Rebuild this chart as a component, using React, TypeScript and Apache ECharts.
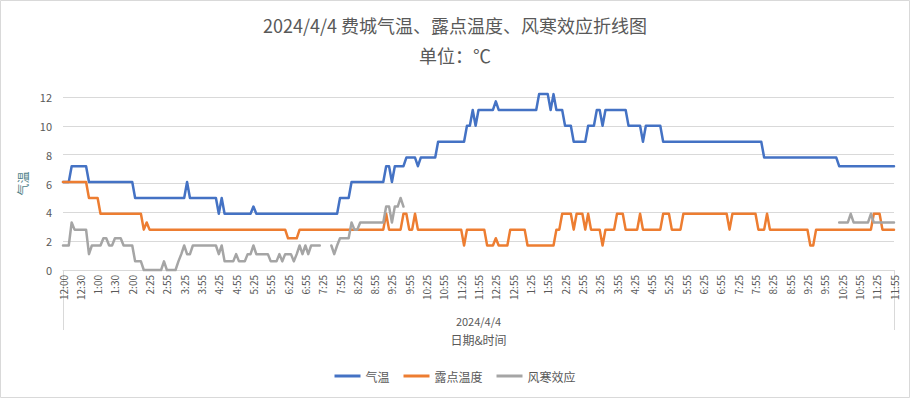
import React, { useEffect, useRef } from "react";
import * as echarts from "echarts";

const N = null;

// Category labels: observations every 5 minutes, 12:00 AM to 11:55 PM, plus one extra observation after 2:00
function buildTimeLabels(): string[] {
  const out: string[] = [];
  for (let m = 0; m < 24 * 60; m += 5) {
    const h = Math.floor(m / 60);
    const mm = m % 60;
    const h12 = h % 12 === 0 ? 12 : h % 12;
    out.push(`${h12}:${mm < 10 ? "0" + mm : mm}`);
    if (m === 120) out.push("2:02");
  }
  return out;
}
const timeLabels = buildTimeLabels();

const DATE_LABEL = "2024/4/4";
const SERIES_NAMES = ["气温", "露点温度", "风寒效应"];

const temperature = [
  6.1, 6.1, 6.1, 7.2, 7.2, 7.2, 7.2, 7.2, 7.2, 6.1, 6.1, 6.1,
  6.1, 6.1, 6.1, 6.1, 6.1, 6.1, 6.1, 6.1, 6.1, 6.1, 6.1, 6.1,
  6.1, 5.0, 5.0, 5.0, 5.0, 5.0, 5.0, 5.0, 5.0, 5.0, 5.0, 5.0,
  5.0, 5.0, 5.0, 5.0, 5.0, 5.0, 5.0, 6.1, 5.0, 5.0, 5.0, 5.0,
  5.0, 5.0, 5.0, 5.0, 5.0, 5.0, 3.9, 5.0, 3.9, 3.9, 3.9, 3.9,
  3.9, 3.9, 3.9, 3.9, 3.9, 3.9, 4.4, 3.9, 3.9, 3.9, 3.9, 3.9,
  3.9, 3.9, 3.9, 3.9, 3.9, 3.9, 3.9, 3.9, 3.9, 3.9, 3.9, 3.9,
  3.9, 3.9, 3.9, 3.9, 3.9, 3.9, 3.9, 3.9, 3.9, 3.9, 3.9, 3.9,
  5.0, 5.0, 5.0, 5.0, 6.1, 6.1, 6.1, 6.1, 6.1, 6.1, 6.1, 6.1,
  6.1, 6.1, 6.1, 6.1, 7.2, 7.2, 6.1, 7.2, 7.2, 7.2, 7.2, 7.8,
  7.8, 7.8, 7.8, 7.2, 7.8, 7.8, 7.8, 7.8, 7.8, 7.8, 8.9, 8.9,
  8.9, 8.9, 8.9, 8.9, 8.9, 8.9, 8.9, 8.9, 10.0, 10.0, 11.1, 10.0,
  11.1, 11.1, 11.1, 11.1, 11.1, 11.1, 11.7, 11.1, 11.1, 11.1, 11.1, 11.1,
  11.1, 11.1, 11.1, 11.1, 11.1, 11.1, 11.1, 11.1, 11.1, 12.2, 12.2, 12.2,
  12.2, 11.1, 12.2, 11.1, 11.1, 11.1, 10.0, 10.0, 10.0, 8.9, 8.9, 8.9,
  8.9, 8.9, 10.0, 10.0, 10.0, 11.1, 11.1, 10.0, 11.1, 11.1, 11.1, 11.1,
  11.1, 11.1, 11.1, 11.1, 10.0, 10.0, 10.0, 10.0, 10.0, 8.9, 10.0, 10.0,
  10.0, 10.0, 10.0, 10.0, 8.9, 8.9, 8.9, 8.9, 8.9, 8.9, 8.9, 8.9,
  8.9, 8.9, 8.9, 8.9, 8.9, 8.9, 8.9, 8.9, 8.9, 8.9, 8.9, 8.9,
  8.9, 8.9, 8.9, 8.9, 8.9, 8.9, 8.9, 8.9, 8.9, 8.9, 8.9, 8.9,
  8.9, 8.9, 8.9, 7.8, 7.8, 7.8, 7.8, 7.8, 7.8, 7.8, 7.8, 7.8,
  7.8, 7.8, 7.8, 7.8, 7.8, 7.8, 7.8, 7.8, 7.8, 7.8, 7.8, 7.8,
  7.8, 7.8, 7.8, 7.8, 7.8, 7.2, 7.2, 7.2, 7.2, 7.2, 7.2, 7.2,
  7.2, 7.2, 7.2, 7.2, 7.2, 7.2, 7.2, 7.2, 7.2, 7.2, 7.2, 7.2,
  7.2,
];

const dewPoint = [
  6.1, 6.1, 6.1, 6.1, 6.1, 6.1, 6.1, 6.1, 6.1, 5.0, 5.0, 5.0,
  5.0, 3.9, 3.9, 3.9, 3.9, 3.9, 3.9, 3.9, 3.9, 3.9, 3.9, 3.9,
  3.9, 3.9, 3.9, 3.9, 2.8, 3.3, 2.8, 2.8, 2.8, 2.8, 2.8, 2.8,
  2.8, 2.8, 2.8, 2.8, 2.8, 2.8, 2.8, 2.8, 2.8, 2.8, 2.8, 2.8,
  2.8, 2.8, 2.8, 2.8, 2.8, 2.8, 2.8, 2.8, 2.8, 2.8, 2.8, 2.8,
  2.8, 2.8, 2.8, 2.8, 2.8, 2.8, 2.8, 2.8, 2.8, 2.8, 2.8, 2.8,
  2.8, 2.8, 2.8, 2.8, 2.8, 2.8, 2.2, 2.2, 2.2, 2.2, 2.8, 2.8,
  2.8, 2.8, 2.8, 2.8, 2.8, 2.8, 2.8, 2.8, 2.8, 2.8, 2.8, 2.8,
  2.8, 2.8, 2.8, 2.8, 2.8, 2.8, 2.8, 2.8, 2.8, 2.8, 2.8, 2.8,
  2.8, 2.8, 2.8, 2.8, 3.9, 2.8, 2.8, 2.8, 2.8, 2.8, 3.9, 3.9,
  2.8, 2.8, 3.9, 2.8, 2.8, 2.8, 2.8, 2.8, 2.8, 2.8, 2.8, 2.8,
  2.8, 2.8, 2.8, 2.8, 2.8, 2.8, 2.8, 1.7, 2.8, 2.8, 2.8, 2.8,
  2.8, 2.8, 2.8, 1.7, 1.7, 1.7, 2.2, 1.7, 1.7, 1.7, 1.7, 2.8,
  2.8, 2.8, 2.8, 2.8, 2.8, 1.7, 1.7, 1.7, 1.7, 1.7, 1.7, 1.7,
  1.7, 1.7, 1.7, 2.8, 2.8, 3.9, 3.9, 3.9, 3.9, 2.8, 3.9, 3.9,
  3.9, 2.8, 3.9, 2.8, 2.8, 2.8, 2.8, 1.7, 2.8, 2.8, 2.8, 2.8,
  3.9, 3.9, 3.9, 2.8, 2.8, 2.8, 2.8, 2.8, 3.9, 2.8, 2.8, 2.8,
  2.8, 2.8, 2.8, 2.8, 3.9, 3.9, 3.9, 2.8, 2.8, 2.8, 2.8, 3.9,
  3.9, 3.9, 3.9, 3.9, 3.9, 3.9, 3.9, 3.9, 3.9, 3.9, 3.9, 3.9,
  3.9, 3.9, 3.9, 2.8, 3.9, 3.9, 3.9, 3.9, 3.9, 3.9, 3.9, 3.9,
  3.9, 2.8, 2.8, 2.8, 3.9, 2.8, 2.8, 2.8, 2.8, 2.8, 2.8, 2.8,
  2.8, 2.8, 2.8, 2.8, 2.8, 2.8, 2.8, 1.7, 1.7, 2.8, 2.8, 2.8,
  2.8, 2.8, 2.8, 2.8, 2.8, 2.8, 2.8, 2.8, 2.8, 2.8, 2.8, 2.8,
  2.8, 2.8, 2.8, 2.8, 2.8, 3.9, 3.9, 3.9, 2.8, 2.8, 2.8, 2.8,
  2.8,
];

const windChill = [
  1.7, 1.7, 1.7, 3.3, 2.8, 2.8, 2.8, 2.8, 2.8, 1.1, 1.7, 1.7,
  1.7, 1.7, 2.2, 2.2, 1.7, 1.7, 2.2, 2.2, 2.2, 1.7, 1.7, 1.7,
  1.7, 0.6, 0.6, 0.6, 0, 0, 0, 0, 0, 0, 0, 0.6,
  0, 0, 0, 0, 0.6, 1.1, 1.7, 1.1, 1.1, 1.7, 1.7, 1.7,
  1.7, 1.7, 1.7, 1.7, 1.7, 1.7, 1.1, 1.7, 0.6, 0.6, 0.6, 0.6,
  1.1, 0.6, 0.6, 0.6, 1.1, 1.1, 1.7, 1.1, 1.1, 1.1, 1.1, 1.1,
  0.6, 0.6, 0.6, 1.1, 0.6, 1.1, 1.1, 1.1, 0.6, 1.1, 1.7, 1.1,
  1.7, 1.1, 1.7, 1.7, 1.7, 1.7, N, N, N, 1.7, 1.1, 1.7,
  2.2, 2.2, 2.2, 2.2, 3.3, 2.8, 2.8, 3.3, 3.3, 3.3, 3.3, 3.3,
  3.3, 3.3, 3.3, 3.3, 4.4, 4.4, 3.3, 4.4, 4.4, 5.0, 4.4, N,
  N, N, N, N, N, N, N, N, N, N, N, N,
  N, N, N, N, N, N, N, N, N, N, N, N,
  N, N, N, N, N, N, N, N, N, N, N, N,
  N, N, N, N, N, N, N, N, N, N, N, N,
  N, N, N, N, N, N, N, N, N, N, N, N,
  N, N, N, N, N, N, N, N, N, N, N, N,
  N, N, N, N, N, N, N, N, N, N, N, N,
  N, N, N, N, N, N, N, N, N, N, N, N,
  N, N, N, N, N, N, N, N, N, N, N, N,
  N, N, N, N, N, N, N, N, N, N, N, N,
  N, N, N, N, N, N, N, N, N, N, N, N,
  N, N, N, N, N, N, N, N, N, N, N, N,
  N, N, N, N, N, 3.3, 3.3, 3.3, 3.3, 3.9, 3.3, 3.3,
  3.3, 3.3, 3.3, 3.3, 3.9, 3.3, 3.3, 3.3, 3.3, 3.3, 3.3, 3.3,
  3.3,
];

const COLORS = ["#4472c4", "#ed7d31", "#a5a5a5"];
const FONT = '"Noto Sans CJK SC", "Noto Sans", sans-serif';
const TEXT = "#595959";
const GRID = "#d9d9d9";

export default function App() {
  const ref = useRef<HTMLDivElement>(null);
  useEffect(() => {
    if (!ref.current) return;
    const chart = echarts.init(ref.current, undefined, { renderer: "svg" });
    const seriesData = [temperature, dewPoint, windChill];
    chart.setOption({
      animation: false,
      backgroundColor: "#ffffff",
      textStyle: { fontFamily: FONT },
      title: {
        text: "2024/4/4 费城气温、露点温度、风寒效应折线图\n单位：℃",
        left: "center",
        top: 5,
        textStyle: { fontSize: 18, fontWeight: "normal", color: TEXT, lineHeight: 30, fontFamily: FONT },
      },
      legend: {
        bottom: 11,
        left: "center",
        icon: "rect",
        itemWidth: 26,
        itemHeight: 3,
        itemGap: 14,
        textStyle: { fontSize: 12, color: TEXT, fontFamily: FONT },
        data: SERIES_NAMES,
      },
      grid: { left: 63, right: 16, top: 97, bottom: 128 },
      xAxis: [
        {
          type: "category",
          data: timeLabels,
          boundaryGap: false,
          axisLine: { lineStyle: { color: GRID } },
          axisTick: { show: false },
          axisLabel: { interval: 5, rotate: 90, fontSize: 10, color: TEXT, margin: 5, fontFamily: FONT },
          splitLine: { show: false },
        },
        {
          type: "category",
          data: [DATE_LABEL],
          position: "bottom",
          boundaryGap: true,
          axisLine: { show: false },
          axisTick: { show: true, length: 60, lineStyle: { color: GRID } },
          axisLabel: { margin: 45, fontSize: 11, color: TEXT, fontFamily: FONT },
          splitLine: { show: false },
          name: "日期&时间",
          nameLocation: "middle",
          nameGap: 63,
          nameTextStyle: { fontSize: 12, color: TEXT, fontFamily: FONT },
        },
      ],
      yAxis: {
        type: "value",
        min: 0,
        max: 12,
        interval: 2,
        name: "气温",
        nameLocation: "middle",
        nameGap: 31,
        nameTextStyle: { fontSize: 12, color: "#4f7f88", fontFamily: FONT },
        axisLine: { show: false },
        axisTick: { show: false },
        splitLine: { lineStyle: { color: GRID, width: 1 } },
        axisLabel: { fontSize: 11, color: TEXT, margin: 11, fontFamily: FONT },
      },
      graphic: [
        {
          type: "rect",
          silent: true,
          shape: { x: 0.5, y: 0.5, width: 909, height: 397 },
          style: { fill: "none", stroke: GRID, lineWidth: 1 },
        },
      ],
      series: SERIES_NAMES.map((name, k) => ({
        name,
        type: "line",
        xAxisIndex: 0,
        data: seriesData[k],
        symbol: "none",
        clip: false,
        connectNulls: false,
        lineStyle: { color: COLORS[k], width: 2.5, cap: "round", join: "round" },
        itemStyle: { color: COLORS[k] },
      })),
    });
    return () => chart.dispose();
  }, []);
  return (
    <div
      ref={ref}
      style={{ position: "absolute", left: 0, top: 0, width: 910, height: 398 }}
    />
  );
}
